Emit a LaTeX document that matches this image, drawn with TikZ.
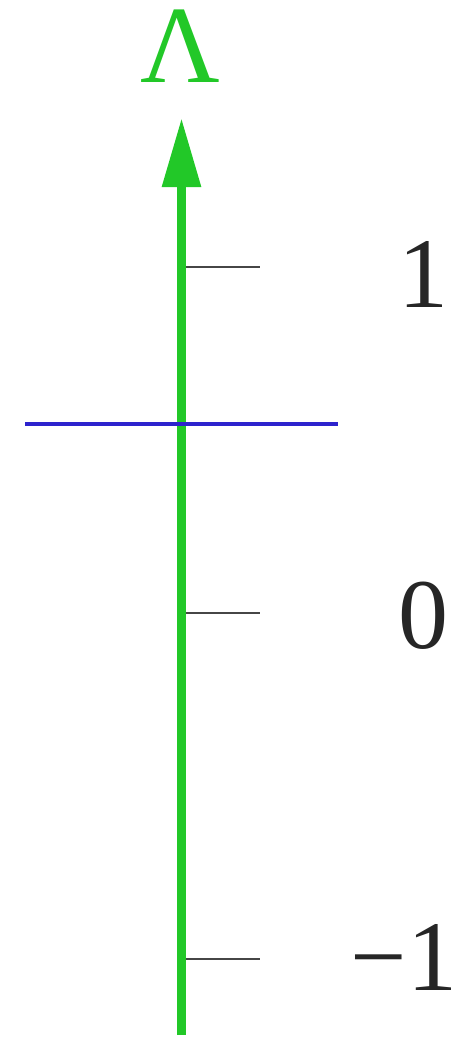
\documentclass[tikz,border=0pt]{standalone}
\usepackage{fontspec}
\setmainfont{Liberation Serif}
\usetikzlibrary{arrows.meta}
\definecolor{axisgreen}{RGB}{34,200,40}
\definecolor{lineblue}{RGB}{45,35,205}
\definecolor{tickgray}{RGB}{70,70,70}
\tikzset{
  axisline/.style={draw=axisgreen, line width=9pt, -{Triangle[length=69pt,width=37pt]}},
  tickline/.style={draw=tickgray, line width=1.3pt},
  levelline/.style={draw=lineblue, line width=3.5pt},
  numlabel/.style={anchor=base, inner sep=0pt, text=black!85, font=\fontsize{100}{100}\selectfont},
  axislabel/.style={anchor=base, inner sep=0pt, text=axisgreen, font=\fontsize{110}{110}\selectfont}
}
\begin{document}
\begin{tikzpicture}[x=1pt,y=-1pt]
\useasboundingbox (0,0) rectangle (465,1037);
\coordinate (bot) at (181.5,1035);
\coordinate (top) at (181.5,118);
\coordinate (a1) at (181.5,267);
\coordinate (a0) at (181.5,613);
\coordinate (am) at (181.5,959);
\coordinate (e1) at (260,267);
\coordinate (e0) at (260,613);
\coordinate (em) at (260,959);
\coordinate (bl) at (25,424);
\coordinate (br) at (338,424);
\draw[tickline] (a1) -- (e1);
\draw[tickline] (a0) -- (e0);
\draw[tickline] (am) -- (em);
\draw[axisline] (bot) -- (top);
\draw[levelline] (bl) -- (br);
\node[axislabel] (lam) at (180.5,82) {Λ};
\node[numlabel] (l1) at (423,307) {1};
\node[numlabel] (l0) at (423,648) {0};
\node[numlabel] (lm) at (404,990) {−1};
\end{tikzpicture}
\end{document}
